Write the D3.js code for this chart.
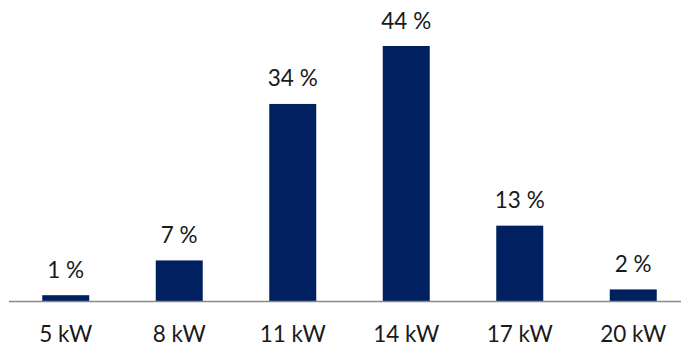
<!DOCTYPE html>
<html>
<head>
<meta charset="utf-8">
<script src="https://cdn.jsdelivr.net/npm/d3@7"></script>
<style>
  html, body { margin: 0; padding: 0; background: #ffffff; }
  svg { display: block; }
  text { font-family: Lato, "Open Sans", "Noto Sans", sans-serif; fill: #1a1a1a; }
</style>
</head>
<body>
<svg id="chart" width="681" height="349"></svg>
<script>
// Share of installations by charging power
const categories = ["5 kW", "8 kW", "11 kW", "14 kW", "17 kW", "20 kW"];
const shares = [1, 7, 34, 44, 13, 2];
const valueLabels = ["1 %", "7 %", "34 %", "44 %", "13 %", "2 %"];

const W = 681, H = 349;
const baseY = 301;
const fontSize = 22.5;
const svg = d3.select("#chart");

const x = d3.scaleBand()
  .domain(categories)
  .range([9, 690])
  .paddingInner(0.586)
  .paddingOuter(0.293);

const y = d3.scaleLinear()
  .domain([0, 44])
  .range([baseY, 46]);

// bars
svg.append("g")
  .selectAll("rect")
  .data(shares)
  .join("rect")
  .attr("x", (d, i) => x(categories[i]))
  .attr("y", d => y(d))
  .attr("width", x.bandwidth())
  .attr("height", d => baseY - y(d))
  .attr("fill", "#002060");

// category axis: plain line, no ticks
const axis = d3.axisBottom(x).tickSize(0).tickPadding(0);
const gAxis = svg.append("g")
  .attr("transform", `translate(0,${baseY})`)
  .call(axis);
gAxis.select(".domain")
  .attr("d", `M9,0.5H${W}`)
  .attr("stroke", "#898989")
  .attr("stroke-width", 1.5);
gAxis.selectAll(".tick text")
  .attr("font-size", fontSize)
  .attr("font-family", 'Lato, "Open Sans", "Noto Sans", sans-serif')
  .attr("fill", "#1a1a1a")
  .attr("y", 40.5)
  .attr("dy", 0);

// value labels above bars
svg.append("g")
  .selectAll("text")
  .data(shares)
  .join("text")
  .attr("x", (d, i) => x(categories[i]) + x.bandwidth() / 2)
  .attr("y", d => y(d) - 17.5)
  .attr("text-anchor", "middle")
  .attr("font-size", fontSize)
  .text((d, i) => valueLabels[i]);
</script>
</body>
</html>
